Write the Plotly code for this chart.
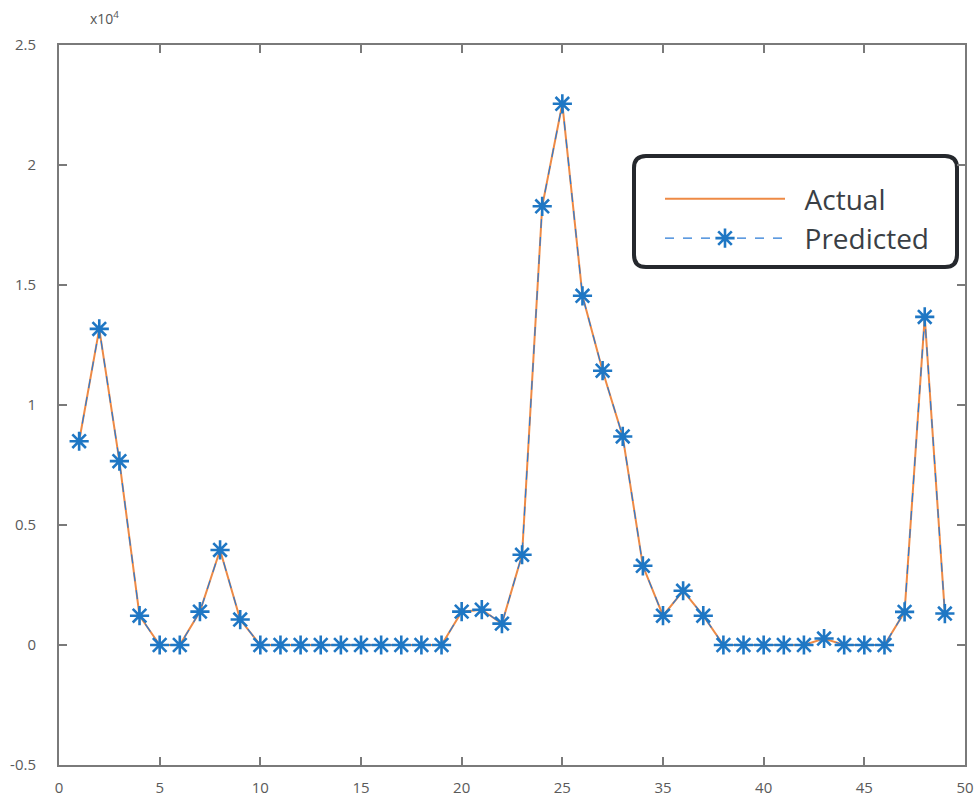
import plotly.graph_objects as go

# ---- data (raw values; axis shown in units of 10^4) ----
x_index = list(range(1, 45))
actual = [8490, 13170, 7660, 1220, 0, 0, 1390, 3960, 1060, 0,
          0, 0, 0, 0, 0, 0, 0, 0, 0,
          1390, 1470, 890, 3760,
          18280, 22550, 14550, 11430, 8690, 3300, 1220, 2260, 1220,
          0, 0, 0, 0, 0,
          270,
          0, 0, 0,
          1380, 13670, 1310]
predicted = [8490, 13170, 7660, 1220, 0, 0, 1390, 3960, 1060, 0,
             0, 0, 0, 0, 0, 0, 0, 0, 0,
             1390, 1470, 890, 3760,
             18280, 22550, 14550, 11430, 8690, 3300, 1220, 2260, 1220,
             0, 0, 0, 0, 0,
             270,
             0, 0, 0,
             1380, 13670, 1310]

x_tickvals = [0, 5, 10, 15, 20, 25, 30, 35, 40, 45]
x_ticktext = ["0", "5", "10", "15", "20", "25", "35", "40", "45", "50"]
y_tickvals = [-5000, 0, 5000, 10000, 15000, 20000, 25000]
y_ticktext = ["-0.5", "0", "0.5", "1", "1.5", "2", "2.5"]

W, H = 976, 807
ML, MR, MT, MB = 59, 11, 45, 42

fig = go.Figure()
fig.add_trace(go.Scatter(
    x=x_index, y=actual, name="\u00a0\u00a0Actual", mode="lines",
    line=dict(color="#EE8A45", width=2.0),
))
fig.add_trace(go.Scatter(
    x=x_index, y=predicted, name="\u00a0\u00a0Predicted", mode="lines+markers",
    line=dict(color="#2A7BD6", width=1.2, dash="dash"),
    marker=dict(symbol="asterisk-open", size=16, color="#1F77C4",
                line=dict(color="#1F77C4", width=2.6)),
))

axis_common = dict(
    showgrid=False, zeroline=False, showline=True, linecolor="#7a7a7a",
    linewidth=2, mirror="ticks", ticks="inside", ticklen=8, tickwidth=1.5,
    tickcolor="#7a7a7a", automargin=False,
    tickfont=dict(family="Open Sans, sans-serif", size=15, color="#5a5a5a"),
)

fig.update_xaxes(range=[0, 45], tickvals=x_tickvals, ticktext=x_ticktext,
                 ticklabelstandoff=8, ticklabeloverflow="allow", **axis_common)
fig.update_yaxes(range=[-5000, 25000], tickvals=y_tickvals, ticktext=y_ticktext,
                 ticklabelstandoff=18, **axis_common)

# rounded legend frame (paper coords)
pw = W - ML - MR
ph = H - MT - MB
def px2paper(px, py):
    return (px - ML) / pw, (H - MB - py) / ph

bx0, by0, bx1, by1 = 634, 156, 957, 267
r = 12
x0, y1p = px2paper(bx0, by0)
x1, y0p = px2paper(bx1, by1)
rx, ry = r / pw, r / ph
path = (f"M {x0+rx},{y1p} L {x1-rx},{y1p} Q {x1},{y1p} {x1},{y1p-ry} "
        f"L {x1},{y0p+ry} Q {x1},{y0p} {x1-rx},{y0p} "
        f"L {x0+rx},{y0p} Q {x0},{y0p} {x0},{y0p+ry} "
        f"L {x0},{y1p-ry} Q {x0},{y1p} {x0+rx},{y1p} Z")
fig.add_shape(type="path", path=path, xref="paper", yref="paper",
              line=dict(color="#25282d", width=4), fillcolor="white", layer="below")

lx, ly = px2paper(660, 174)
ax, ay = px2paper(88, 18)
fig.update_layout(
    width=W, height=H,
    margin=dict(l=ML, r=MR, t=MT, b=MB, autoexpand=False),
    plot_bgcolor="white", paper_bgcolor="white",
    showlegend=True,
    legend=dict(x=lx, y=ly, xanchor="left", yanchor="top",
                bgcolor="rgba(0,0,0,0)", borderwidth=0, itemwidth=120,
                font=dict(family="Open Sans, sans-serif", size=28, color="#3a3f45"),
                tracegroupgap=0),
    annotations=[dict(text="x10<sup>4</sup>", xref="paper", yref="paper",
                      x=ax, y=ay, xanchor="left", yanchor="middle",
                      showarrow=False,
                      font=dict(family="Open Sans, sans-serif", size=14, color="#555555"))],
)

fig.write_html("out.html")
